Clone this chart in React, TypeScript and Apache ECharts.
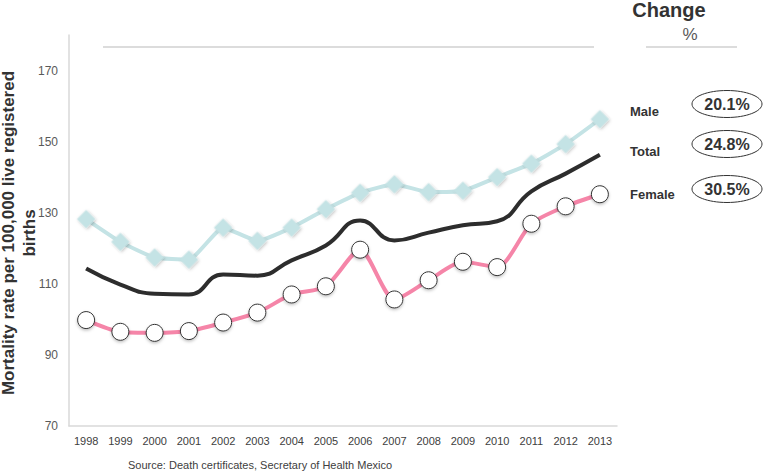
import React, { useEffect, useRef } from "react";
import * as echarts from "echarts";

const years = ["1998","1999","2000","2001","2002","2003","2004","2005","2006","2007","2008","2009","2010","2011","2012","2013"];
const male = [128.2, 121.8, 117.4, 116.8, 125.8, 122.1, 125.8, 131.0, 135.6, 138.0, 135.8, 136.2, 140.0, 143.8, 149.3, 156.3];
const total = [114.3, 109.8, 107.2, 107.0, 112.6, 112.3, 116.6, 120.8, 127.8, 122.2, 124.4, 126.5, 127.6, 136.0, 141.0, 146.3];
const female = [99.8, 96.5, 96.2, 96.7, 99.1, 101.9, 107.0, 109.3, 119.6, 105.6, 111.0, 116.2, 114.7, 126.9, 131.8, 135.2];
const legendNames = ["Male", "Total", "Female"];
const changes = ["20.1%", "24.8%", "30.5%"];
const yTitle = "Mortality rate per 100,000 live registered\nbirths";

export default function App() {
  const ref = useRef<HTMLDivElement>(null);
  useEffect(() => {
    document.body.style.margin = "0";
    if (!ref.current) return;
    const chart = echarts.init(ref.current, null, { renderer: "svg" });
    const font = "Liberation Sans, Arial, sans-serif";
    const rowY = [111, 151, 194];
    const ellY = [104, 144, 189];
    const graphics: any[] = [
      { type: "line", shape: { x1: 103, y1: 47, x2: 594, y2: 47 }, style: { stroke: "#d0d0d0", lineWidth: 1.5 } },
      { type: "line", shape: { x1: 646, y1: 47, x2: 737, y2: 47 }, style: { stroke: "#d0d0d0", lineWidth: 1.5 } },
      { type: "text", x: 669, y: 10, style: { text: "Change", font: `bold 20px ${font}`, fill: "#333", textAlign: "center", textVerticalAlign: "middle" } },
      { type: "text", x: 690, y: 34, style: { text: "%", font: `17px ${font}`, fill: "#595959", textAlign: "center", textVerticalAlign: "middle" } },
      { type: "text", x: 128, y: 465, style: { text: "Source: Death certificates, Secretary of Health Mexico", font: `11px ${font}`, fill: "#404040", textAlign: "left", textVerticalAlign: "middle" } },
      { type: "text", x: 19, y: 233, rotation: Math.PI / 2, style: { text: yTitle, font: `bold 17px ${font}`, lineHeight: 21, fill: "#333", textAlign: "center", textVerticalAlign: "middle" } },
    ];
    legendNames.forEach((n, i) => {
      graphics.push({ type: "text", x: 630, y: rowY[i], style: { text: n, font: `bold 13px ${font}`, fill: "#333", textAlign: "left", textVerticalAlign: "middle" } });
      graphics.push({ type: "ellipse", shape: { cx: 727, cy: ellY[i], rx: 35, ry: 13.5 }, style: { fill: "#fff", stroke: "#333", lineWidth: 1 } });
      graphics.push({ type: "text", x: 727, y: ellY[i], style: { text: changes[i], font: `bold 16px ${font}`, fill: "#333", textAlign: "center", textVerticalAlign: "middle" } });
    });
    chart.setOption({
      animation: false,
      backgroundColor: "#fff",
      grid: { left: 69, right: 148, top: 35, bottom: 46, containLabel: false, outerBoundsMode: "none" },
      xAxis: {
        type: "category",
        data: years,
        boundaryGap: true,
        axisLine: { lineStyle: { color: "#d9d9d9", width: 1.5 } },
        axisTick: { show: false },
        axisLabel: { color: "#404040", fontSize: 11, fontFamily: font, margin: 9, interval: 0 },
      },
      yAxis: {
        type: "value",
        min: 70,
        max: 180,
        interval: 20,
        axisLine: { show: true, lineStyle: { color: "#d9d9d9", width: 1.5 } },
        axisTick: { show: false },
        splitLine: { show: false },
        axisLabel: { color: "#595959", fontSize: 12, fontFamily: font, margin: 11, showMaxLabel: false },
      },
      series: [
        {
          name: "Total",
          type: "line",
          data: total,
          smooth: 0.5,
          showSymbol: false,
          lineStyle: { color: "#2d2d2d", width: 4 },
          z: 2,
        },
        {
          name: "Male",
          type: "line",
          data: male,
          smooth: 0.15,
          symbol: "rect",
          symbolRotate: 45,
          symbolSize: 13,
          lineStyle: { color: "#c4e3e5", width: 4 },
          itemStyle: { color: "#c4e3e5", shadowBlur: 3, shadowColor: "rgba(0,0,0,0.25)", shadowOffsetY: 1.5 },
          z: 3,
        },
        {
          name: "Female",
          type: "line",
          data: female,
          smooth: 0.25,
          symbol: "circle",
          symbolSize: 17,
          lineStyle: { color: "#f585a8", width: 4 },
          itemStyle: { color: "#ffffff", borderColor: "#333", borderWidth: 1, shadowBlur: 3, shadowColor: "rgba(0,0,0,0.25)", shadowOffsetY: 1.5 },
          z: 4,
        },
      ],
      graphic: graphics,
    });
    return () => chart.dispose();
  }, []);
  return <div ref={ref} style={{ width: 765, height: 472 }} />;
}
